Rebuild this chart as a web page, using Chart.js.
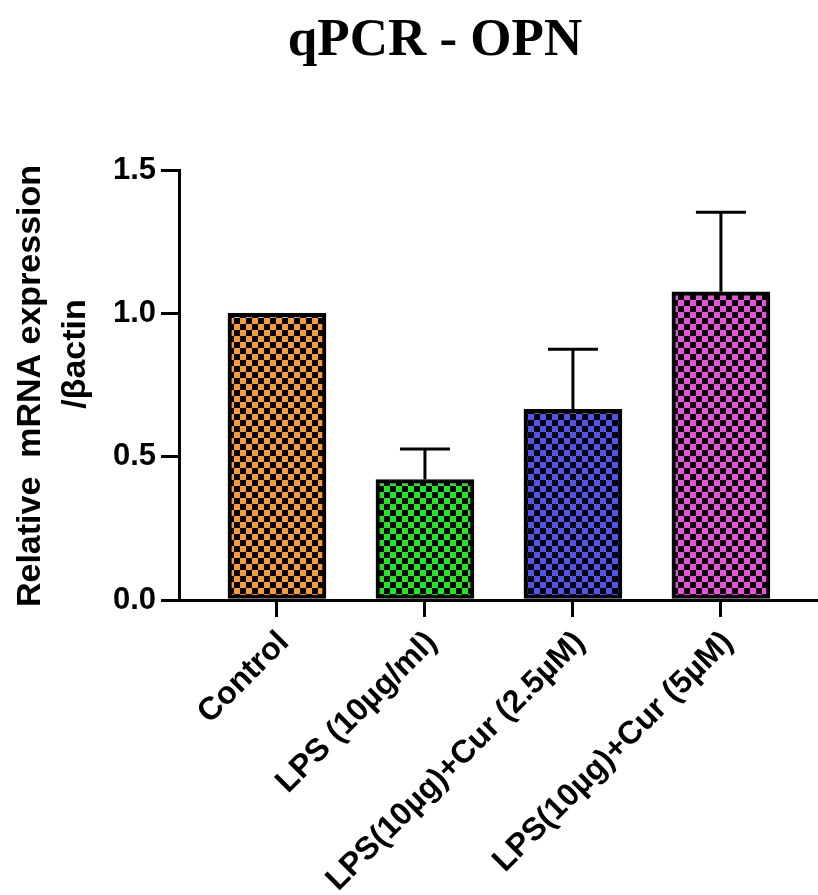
<!DOCTYPE html>
<html>
<head>
<meta charset="utf-8">
<style>
  html, body { margin: 0; padding: 0; background: #fff; }
  #c { display: block; }
</style>
<script src="https://cdn.jsdelivr.net/npm/chart.js@4.4.1/dist/chart.umd.min.js"></script>
</head>
<body>
<canvas id="c" width="818" height="895"></canvas>
<script>
const categories = ['Control', 'LPS (10µg/ml)', 'LPS(10µg)+Cur (2.5µM)', 'LPS(10µg)+Cur (5µM)'];
const means = [1.0, 0.42, 0.665, 1.075];
const errors = [0, 0.107, 0.21, 0.278];
const barColors = ['#F89A35', '#1EE81E', '#5252F2', '#EE4EDE'];
const yTicks = [0, 0.5, 1.0, 1.5];
const titleText = 'qPCR - OPN';
const yLabelLines = ['Relative  mRNA expression', '/βactin'];

function makePattern(color) {
  const p = document.createElement('canvas');
  p.width = 12; p.height = 12;
  const g = p.getContext('2d');
  g.fillStyle = color;
  g.fillRect(0, 0, 12, 12);
  g.fillStyle = '#000';
  g.fillRect(0, 0, 6, 6);
  g.fillRect(6, 6, 6, 6);
  return document.getElementById('c').getContext('2d').createPattern(p, 'repeat');
}

const SANS = '"Liberation Sans", Arial, Helvetica, sans-serif';

const decorPlugin = {
  id: 'decor',
  afterDraw(chart) {
    const ctx = chart.ctx;
    ctx.save();
    ctx.fillStyle = '#000';
    ctx.font = 'bold 53px "Liberation Serif", "Times New Roman", serif';
    ctx.textAlign = 'center';
    ctx.textBaseline = 'alphabetic';
    ctx.fillText(titleText, 435, 55);
    ctx.font = 'bold 34px ' + SANS;
    ctx.textBaseline = 'middle';
    ctx.save();
    ctx.translate(31, 386);
    ctx.rotate(-Math.PI / 2);
    ctx.fillText(yLabelLines[0], 0, 0);
    ctx.restore();
    ctx.save();
    ctx.translate(76, 354);
    ctx.rotate(-Math.PI / 2);
    ctx.fillText(yLabelLines[1], 0, 0);
    ctx.restore();
    ctx.restore();
  },
  afterDatasetsDraw(chart) {
    const ctx = chart.ctx;
    const xs = chart.scales.x, ys = chart.scales.y;
    ctx.save();
    ctx.strokeStyle = '#000';
    ctx.lineWidth = 3;
    means.forEach((m, i) => {
      if (!errors[i]) return;
      const x = xs.getPixelForValue(i);
      const y0 = ys.getPixelForValue(m);
      const y1 = ys.getPixelForValue(m + errors[i]);
      ctx.beginPath();
      ctx.moveTo(x, y0);
      ctx.lineTo(x, y1);
      ctx.moveTo(x - 25, y1);
      ctx.lineTo(x + 25, y1);
      ctx.stroke();
    });
    ctx.restore();
  }
};

new Chart(document.getElementById('c'), {
  type: 'bar',
  data: {
    datasets: [{
      data: means.map((m, i) => ({ x: i, y: m })),
      backgroundColor: barColors.map(makePattern),
      borderColor: '#000',
      borderWidth: 4,
      borderSkipped: false,
      barThickness: 98
    }]
  },
  options: {
    responsive: false,
    animation: false,
    layout: { padding: { top: 170, left: 0, right: 0, bottom: 0 } },
    plugins: { legend: { display: false }, tooltip: { enabled: false }, title: { display: false } },
    scales: {
      x: {
        type: 'linear',
        offset: false,
        min: -0.662,
        max: 3.656,
        afterBuildTicks: s => { s.ticks = categories.map((_, i) => ({ value: i })); },
        afterFit: s => { s.height = 295; },
        ticks: {
          autoSkip: false,
          maxRotation: 45,
          minRotation: 45,
          padding: 7,
          labelOffset: 7,
          color: '#000',
          font: { family: SANS, weight: 'bold', size: 32 },
          callback: v => categories[v]
        },
        grid: { offset: false, drawOnChartArea: false, tickLength: 17, lineWidth: 3, color: '#000' },
        border: { width: 3, color: '#000' }
      },
      y: {
        min: 0,
        max: 1.5,
        afterBuildTicks: s => { s.ticks = yTicks.map(v => ({ value: v })); },
        afterFit: s => { s.width = 179; },
        ticks: {
          padding: 5,
          color: '#000',
          font: { family: SANS, weight: 'bold', size: 31 },
          callback: v => v.toFixed(1)
        },
        grid: { drawOnChartArea: false, tickLength: 18, lineWidth: 3, color: '#000' },
        border: { width: 3, color: '#000' }
      }
    }
  },
  plugins: [decorPlugin]
});
</script>
</body>
</html>
